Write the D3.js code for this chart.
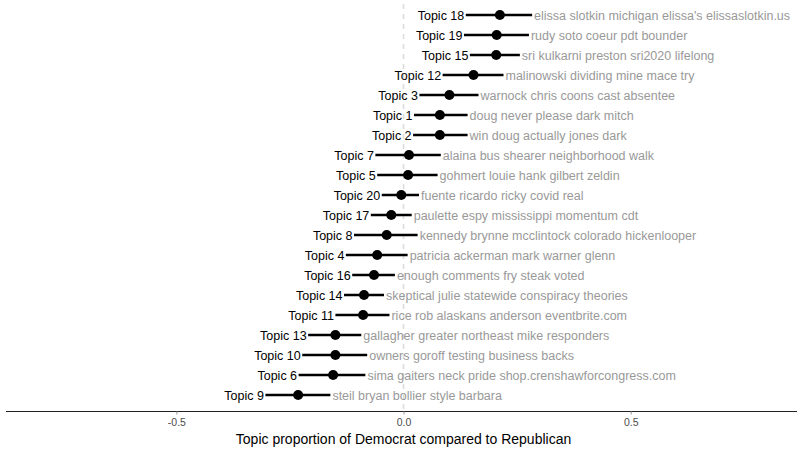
<!DOCTYPE html>
<html>
<head>
<meta charset="utf-8">
<script src="https://cdn.jsdelivr.net/npm/d3@7"></script>
<style>
  html, body { margin: 0; padding: 0; background: #fff; }
  svg { display: block; font-family: "Liberation Sans", Arial, sans-serif; }
</style>
</head>
<body>
<svg id="chart" width="797" height="450"></svg>
<script>
// Topics, top to bottom
const topics = ["Topic 18","Topic 19","Topic 15","Topic 12","Topic 3","Topic 1","Topic 2","Topic 7","Topic 5","Topic 20",
                "Topic 17","Topic 8","Topic 4","Topic 16","Topic 14","Topic 11","Topic 13","Topic 10","Topic 6","Topic 9"];
// Estimated difference (Democrat minus Republican) and 95% interval
const estimate = [0.212,0.205,0.204,0.154,0.101,0.080,0.080,0.012,0.010,-0.005,
                  -0.027,-0.037,-0.058,-0.065,-0.087,-0.089,-0.150,-0.150,-0.155,-0.232];
const lower    = [0.137,0.133,0.146,0.086,0.035,0.023,0.021,-0.062,-0.058,-0.048,
                  -0.072,-0.109,-0.127,-0.113,-0.131,-0.150,-0.210,-0.223,-0.231,-0.304];
const upper    = [0.283,0.276,0.256,0.220,0.165,0.141,0.141,0.082,0.075,0.034,
                  0.018,0.031,0.009,-0.019,-0.043,-0.031,-0.093,-0.080,-0.084,-0.161];
// Top words for each topic
const words = ["elissa slotkin michigan elissa's elissaslotkin.us","rudy soto coeur pdt bounder","sri kulkarni preston sri2020 lifelong",
               "malinowski dividing mine mace try","warnock chris coons cast absentee","doug never please dark mitch",
               "win doug actually jones dark","alaina bus shearer neighborhood walk","gohmert louie hank gilbert zeldin",
               "fuente ricardo ricky covid real","paulette espy mississippi momentum cdt","kennedy brynne mcclintock colorado hickenlooper",
               "patricia ackerman mark warner glenn","enough comments fry steak voted","skeptical julie statewide conspiracy theories",
               "rice rob alaskans anderson eventbrite.com","gallagher greater northeast mike responders","owners goroff testing business backs",
               "sima gaiters neck pride shop.crenshawforcongress.com","steil bryan bollier style barbara"];
const xTicks = [-0.5, 0, 0.5];
const xTickLabels = ["-0.5", "0.0", "0.5"];
const xTitle = "Topic proportion of Democrat compared to Republican";

const rows = topics.map((t, i) => ({ topic: t, est: estimate[i], lo: lower[i], hi: upper[i], words: words[i] }));

const svg = d3.select("#chart");
const axisY = 411.5;

const x = d3.scaleLinear().domain([-0.875, 0.866]).range([6, 797]);
const y = d3.scalePoint().domain(topics).range([15, 395]);

// Reference line at zero
svg.append("line")
  .attr("x1", x(0)).attr("x2", x(0))
  .attr("y1", 4).attr("y2", axisY)
  .attr("stroke", "#dcdcdc").attr("stroke-width", 1.6)
  .attr("stroke-dasharray", "5,5");

// Intervals
const g = svg.append("g");
g.selectAll("line.ci").data(rows).join("line")
  .attr("class", "ci")
  .attr("x1", d => x(d.lo)).attr("x2", d => x(d.hi))
  .attr("y1", d => y(d.topic)).attr("y2", d => y(d.topic))
  .attr("stroke", "#000").attr("stroke-width", 2.3);

// Point estimates
g.selectAll("circle").data(rows).join("circle")
  .attr("cx", d => x(d.est)).attr("cy", d => y(d.topic))
  .attr("r", 5).attr("fill", "#000");

// Topic labels (left of interval)
g.selectAll("text.topic").data(rows).join("text")
  .attr("class", "topic")
  .attr("x", d => x(d.lo) - 1.5).attr("y", d => y(d.topic))
  .attr("dy", "0.36em").attr("text-anchor", "end")
  .attr("font-size", 12.5).attr("fill", "#000")
  .text(d => d.topic);

// Word labels (right of interval)
g.selectAll("text.words").data(rows).join("text")
  .attr("class", "words")
  .attr("x", d => x(d.hi) + 2).attr("y", d => y(d.topic))
  .attr("dy", "0.36em").attr("text-anchor", "start")
  .attr("font-size", 12.5).attr("fill", "#999999")
  .text(d => d.words);

// X axis
const axis = d3.axisBottom(x).tickValues(xTicks)
  .tickFormat((d, i) => xTickLabels[i]).tickSize(3).tickPadding(4);
const ax = svg.append("g").attr("transform", `translate(0,${axisY})`).call(axis);
ax.select(".domain").attr("stroke", "#222").attr("stroke-width", 1)
  .attr("d", `M${x.range()[0]},0H${x.range()[1]}`);
ax.selectAll(".tick line").attr("stroke", "#999");
ax.selectAll(".tick text").attr("fill", "#4d4d4d").attr("font-size", 10.5)
  .attr("font-family", "Liberation Sans, Arial, sans-serif");

svg.append("text")
  .attr("x", x(0)).attr("y", 444)
  .attr("text-anchor", "middle").attr("font-size", 14).attr("fill", "#000")
  .text(xTitle);
</script>
</body>
</html>
